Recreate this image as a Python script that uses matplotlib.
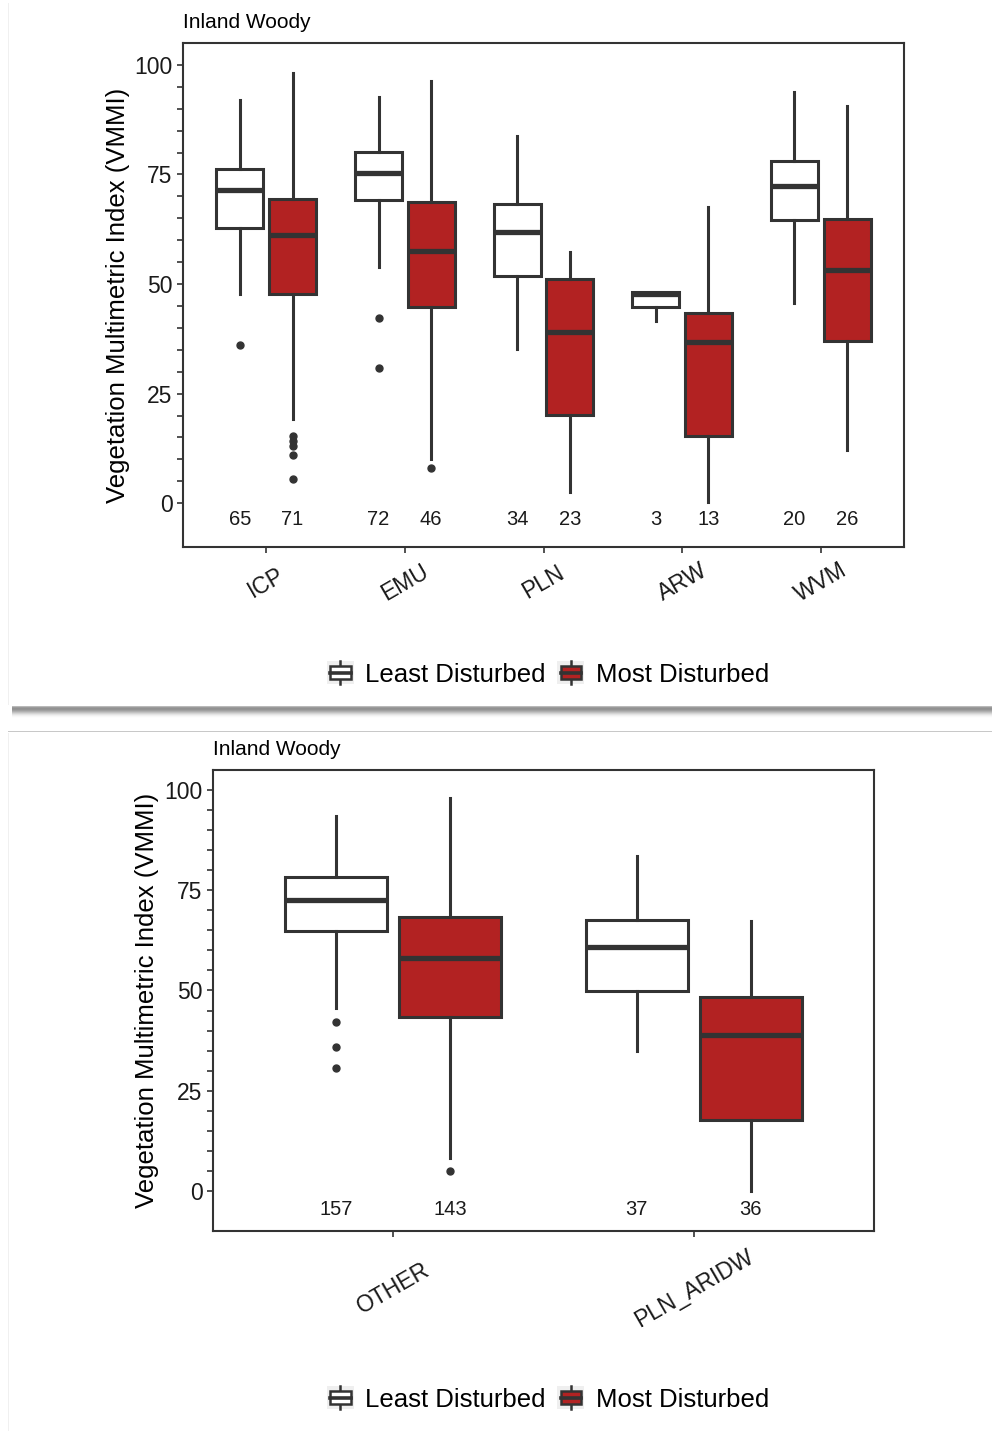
import matplotlib
matplotlib.use('Agg')
import matplotlib.pyplot as plt
import numpy as np
from matplotlib.patches import Rectangle, Patch
from matplotlib.lines import Line2D
from matplotlib.legend_handler import HandlerBase
from matplotlib.ticker import FixedLocator

plt.rcParams['font.family'] = ['Liberation Sans', 'DejaVu Sans']

W, H = 992, 1431
dark = '#333333'
red = '#B22222'

# top panel: ecoregions
top_groups = ['ICP', 'EMU', 'PLN', 'ARW', 'WVM']
top_ld_whislo = [47.7, 53.9, 35.2, 41.6, 45.7]
top_ld_q1 = [62.8, 69.2, 51.8, 44.7, 64.6]
top_ld_med = [71.5, 75.3, 61.9, 47.8, 72.4]
top_ld_q3 = [76.3, 80.1, 68.3, 48.2, 78.1]
top_ld_whishi = [92.0, 92.7, 83.8, 48.2, 93.8]
top_ld_fliers = [[36.1], [42.3, 30.8], [], [], []]
top_md_whislo = [19.2, 10.0, 2.5, 0.2, 12.1]
top_md_q1 = [47.7, 44.7, 20.1, 15.3, 37.0]
top_md_med = [61.2, 57.5, 39.0, 36.7, 53.2]
top_md_q3 = [69.4, 68.7, 51.1, 43.4, 64.8]
top_md_whishi = [98.2, 96.3, 57.3, 67.6, 90.6]
top_md_fliers = [[15.3, 14.2, 13.0, 11.0, 5.5], [8.0], [], [], []]
top_ld_n = [65, 72, 34, 3, 20]
top_md_n = [71, 46, 23, 13, 26]

# bottom panel: reporting units
bot_groups = ['OTHER', 'PLN_ARIDW']
bot_ld_whislo = [45.6, 34.9]
bot_ld_q1 = [64.8, 49.9]
bot_ld_med = [72.6, 60.8]
bot_ld_q3 = [78.3, 67.6]
bot_ld_whishi = [93.5, 83.5]
bot_ld_fliers = [[42.1, 35.9, 30.7], []]
bot_md_whislo = [8.2, 0.0]
bot_md_q1 = [43.4, 17.7]
bot_md_med = [58.1, 38.9]
bot_md_q3 = [68.3, 48.4]
bot_md_whishi = [98.0, 67.3]
bot_md_fliers = [[5.0], []]
bot_ld_n = [157, 37]
bot_md_n = [143, 36]

legend_labels = ['Least Disturbed', 'Most Disturbed']


def px(x, y):
    return x / W, 1 - y / H


def make_stats(whislo, q1, med, q3, whishi, fliers):
    out = []
    for i in range(len(med)):
        out.append(dict(whislo=whislo[i], q1=q1[i], med=med[i], q3=q3[i],
                        whishi=whishi[i], fliers=fliers[i]))
    return out


def draw_boxes(ax, stats, positions, face):
    ax.bxp(stats, positions=positions, widths=0.34, patch_artist=True,
           showcaps=False, manage_ticks=False,
           boxprops=dict(facecolor=face, edgecolor=dark, linewidth=2.2),
           medianprops=dict(color=dark, linewidth=3.8, solid_capstyle='butt'),
           whiskerprops=dict(color=dark, linewidth=2.2),
           flierprops=dict(marker='o', markerfacecolor=dark, markeredgecolor=dark,
                           markersize=5))


def draw_panel(ax, groups, ld, md, ld_n, md_n, n_y, xpad):
    x = np.arange(1, len(groups) + 1)
    draw_boxes(ax, ld, x - 0.19, 'white')
    draw_boxes(ax, md, x + 0.19, red)
    for i in range(len(groups)):
        ax.text(x[i] - 0.19, n_y, str(ld_n[i]), ha='center', va='center', fontsize=14.5, color='#1a1a1a')
        ax.text(x[i] + 0.19, n_y, str(md_n[i]), ha='center', va='center', fontsize=14.5, color='#1a1a1a')
    ax.set_xlim(0.4, len(groups) + 0.6)
    ax.set_ylim(-10, 105)
    ax.set_xticks(x)
    ax.set_xticklabels(groups, rotation=30, ha='center', va='center', rotation_mode='anchor')
    ax.set_yticks([0, 25, 50, 75, 100])
    ax.yaxis.set_minor_locator(FixedLocator(np.arange(0, 101, 5)))
    ax.tick_params(axis='x', length=4.5, width=1.2, color=dark, labelsize=16.5, pad=xpad, labelcolor='#1a1a1a')
    ax.tick_params(axis='y', which='both', length=4.5, width=1.2, color=dark, labelsize=16.5, pad=3, labelcolor='#1a1a1a')
    for s in ax.spines.values():
        s.set_color(dark)
        s.set_linewidth(1.5)
    ax.set_title('Inland Woody', loc='left', fontsize=15, pad=11)
    ax.set_ylabel('Vegetation Multimetric Index (VMMI)', fontsize=18.5)


class BoxKey(HandlerBase):
    def create_artists(self, legend, orig_handle, xdescent, ydescent, width, height, fontsize, trans):
        x0, y0 = -xdescent, -ydescent
        bg = Rectangle((x0, y0), width, height, facecolor='#efefef', edgecolor='none', transform=trans)
        cx = x0 + width / 2
        wl = Line2D([cx, cx], [y0, y0 + height], color=dark, lw=1.8, transform=trans)
        box = Rectangle((x0 + 0.12 * width, y0 + 0.22 * height), 0.76 * width, 0.56 * height,
                        facecolor=orig_handle.get_facecolor(), edgecolor=dark, lw=1.8, transform=trans)
        med = Line2D([x0 + 0.12 * width, x0 + 0.88 * width], [y0 + height / 2] * 2, color=dark, lw=2.6,
                     transform=trans)
        return [bg, wl, box, med]


def add_legend(fig, yc):
    handles = [Patch(facecolor='white'), Patch(facecolor=red)]
    fig.legend(handles, legend_labels, handler_map={Patch: BoxKey()}, loc='center',
               bbox_to_anchor=px(548, yc), ncol=2, frameon=False, fontsize=18.5,
               handlelength=1.05, handleheight=1.0, handletextpad=0.45, columnspacing=0.45,
               borderpad=0, borderaxespad=0)


fig = plt.figure(figsize=(W / 100, H / 100), dpi=100)

# screenshot card decoration
for y, g in zip(range(706, 718), [185, 155, 145, 148, 160, 176, 194, 212, 228, 240, 248, 253]):
    fig.add_artist(Rectangle(px(12, y + 1), (W - 12) / W, 1 / H, facecolor=str(g / 255.0),
                             edgecolor='none', transform=fig.transFigure))
fig.add_artist(Rectangle(px(8, 732), (W - 8) / W, 1 / H, facecolor='#c8c8c8', edgecolor='none',
                         transform=fig.transFigure))
fig.add_artist(Rectangle(px(8, 705), 1 / W, 702 / H, facecolor='#f0f0f0', edgecolor='none',
                         transform=fig.transFigure))
fig.add_artist(Rectangle(px(8, H), 1 / W, (H - 733) / H, facecolor='#f0f0f0', edgecolor='none',
                         transform=fig.transFigure))

ax1 = fig.add_axes([183 / W, 1 - 547 / H, 721 / W, 504 / H])
draw_panel(ax1, top_groups,
           make_stats(top_ld_whislo, top_ld_q1, top_ld_med, top_ld_q3, top_ld_whishi, top_ld_fliers),
           make_stats(top_md_whislo, top_md_q1, top_md_med, top_md_q3, top_md_whishi, top_md_fliers),
           top_ld_n, top_md_n, -3.7, 21)
ax1.yaxis.set_label_coords(-0.0735, 0.5)
add_legend(fig, 674)

ax2 = fig.add_axes([213 / W, 1 - 1231 / H, 661 / W, 461 / H])
draw_panel(ax2, bot_groups,
           make_stats(bot_ld_whislo, bot_ld_q1, bot_ld_med, bot_ld_q3, bot_ld_whishi, bot_ld_fliers),
           make_stats(bot_md_whislo, bot_md_q1, bot_md_med, bot_md_q3, bot_md_whishi, bot_md_fliers),
           bot_ld_n, bot_md_n, -4.7, 37)
ax2.yaxis.set_label_coords(-0.0817, 0.5)
add_legend(fig, 1399)

plt.savefig('out.png', dpi=100)
